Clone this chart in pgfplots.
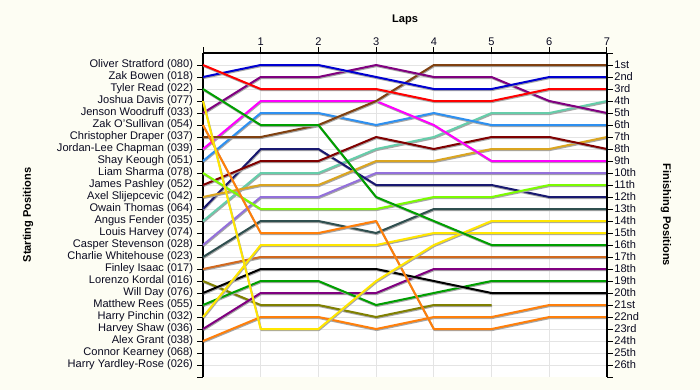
\documentclass[border=0pt]{standalone}
\usepackage{fontspec}
\setmainfont{Liberation Sans}
\usepackage{pgfplots}
\pgfplotsset{compat=1.18}
\definecolor{bgc}{HTML}{FDFDF3}
\definecolor{gridc}{HTML}{E4E4E4}
\definecolor{cRed}{HTML}{FF0000}
\definecolor{cBlue}{HTML}{0000D0}
\definecolor{cGreen}{HTML}{009F00}
\definecolor{cYellow}{HTML}{FFE600}
\definecolor{cPurple}{HTML}{800080}
\definecolor{cOrange}{HTML}{FF7F0A}
\definecolor{cBrown}{HTML}{804010}
\definecolor{cMagenta}{HTML}{FF00FF}
\definecolor{cLBlue}{HTML}{2E90F0}
\definecolor{cLime}{HTML}{7CFC00}
\definecolor{cMaroon}{HTML}{800000}
\definecolor{cGold}{HTML}{DAA520}
\definecolor{cNavy}{HTML}{191970}
\definecolor{cAqua}{HTML}{66CDAA}
\definecolor{cLav}{HTML}{9370DB}
\definecolor{cSlate}{HTML}{2F4F4F}
\definecolor{cChoc}{HTML}{D2691E}
\definecolor{cOlive}{HTML}{808000}
\definecolor{txt}{HTML}{0A0A20}
\newcommand{\lblfont}{\fontsize{8.3}{10}\selectfont}
\begin{document}
\begin{tikzpicture}[x=1pt,y=1pt]
\path[use as bounding box, fill=bgc] (0,0) rectangle (525,292.5);
\begin{axis}[
  at={(152.25pt,9.75pt)}, anchor=south west,
  scale only axis, width=303pt, height=243pt,
  xmin=0, xmax=7, ymin=0, ymax=27, y dir=reverse,
  axis x line*=top, axis y line*=left,
  xtick={0,...,7}, xticklabels={{},1,2,3,4,5,6,7},
  ytick={1,...,26},
  yticklabels={Oliver Stratford (080),Zak Bowen (018),Tyler Read (022),Joshua Davis (077),Jenson Woodruff (033),Zak O'Sullivan (054),Christopher Draper (037),Jordan-Lee Chapman (039),Shay Keough (051),Liam Sharma (078),James Pashley (052),Axel Slijepcevic (042),Owain Thomas (064),Angus Fender (035),Louis Harvey (074),Casper Stevenson (028),Charlie Whitehouse (023),Finley Isaac (017),Lorenzo Kordal (016),Will Day (076),Matthew Rees (055),Harry Pinchin (032),Harvey Shaw (036),Alex Grant (038),Connor Kearney (068),Harry Yardley-Rose (026)},
  extra y ticks={27}, extra y tick labels={},
  extra tick style={grid=none},
  tick align=outside, major tick length=4.5pt,
  grid=major, major grid style={color=gridc, line width=0.75pt},
  axis line style={line width=0.9pt, black},
  tick style={line width=0.75pt, black},
  axis background/.style={fill=white},
  /pgf/number format/assume math mode=true,
  yticklabel style={font=\lblfont, text=txt, xshift=0.5pt},
  xticklabel style={font=\lblfont, text=txt, yshift=-2.5pt},
  clip=false,
  every axis plot/.append style={line width=1.5pt, mark=none, line join=round,
    preaction={draw=black!35, line width=1.5pt, line join=round, transform canvas={shift={(0.4pt,-0.8pt)}}}},
]
\addplot[cOlive] coordinates {(0,19)(1,21)(2,21)(3,22)(4,21)(5,21)};
\addplot[cOrange] coordinates {(0,24)(1,22)(2,22)(3,23)(4,22)(5,22)(6,21)(7,21)};
\addplot[cPurple] coordinates {(0,23)(1,20)(2,20)(3,20)(4,18)(5,18)(6,18)(7,18)};
\addplot[cGreen] coordinates {(0,21)(1,19)(2,19)(3,21)(4,20)(5,19)(6,19)(7,19)};
\addplot[black] coordinates {(0,20)(1,18)(2,18)(3,18)(4,19)(5,20)(6,20)(7,20)};
\addplot[cChoc] coordinates {(0,18)(1,17)(2,17)(3,17)(4,17)(5,17)(6,17)(7,17)};
\addplot[cSlate] coordinates {(0,17)(1,14)(2,14)(3,15)(4,13)(5,13)(6,13)(7,13)};
\addplot[cYellow] coordinates {(0,22)(1,16)(2,16)(3,16)(4,15)(5,15)(6,15)(7,15)};
\addplot[cLav] coordinates {(0,16)(1,12)(2,12)(3,10)(4,10)(5,10)(6,10)(7,10)};
\addplot[cAqua] coordinates {(0,14)(1,10)(2,10)(3,8)(4,7)(5,5)(6,5)(7,4)};
\addplot[cNavy] coordinates {(0,13)(1,8)(2,8)(3,11)(4,11)(5,11)(6,12)(7,12)};
\addplot[cGold] coordinates {(0,12)(1,11)(2,11)(3,9)(4,9)(5,8)(6,8)(7,7)};
\addplot[cMaroon] coordinates {(0,11)(1,9)(2,9)(3,7)(4,8)(5,7)(6,7)(7,8)};
\addplot[cLime] coordinates {(0,10)(1,13)(2,13)(3,13)(4,12)(5,12)(6,11)(7,11)};
\addplot[cLBlue] coordinates {(0,9)(1,5)(2,5)(3,6)(4,5)(5,6)(6,6)(7,6)};
\addplot[cMagenta] coordinates {(0,8)(1,4)(2,4)(3,4)(4,6)(5,9)(6,9)(7,9)};
\addplot[cBrown] coordinates {(0,7)(1,7)(2,6)(3,4)(4,1)(5,1)(6,1)(7,1)};
\addplot[cOrange] coordinates {(0,6)(1,15)(2,15)(3,14)(4,23)(5,23)(6,22)(7,22)};
\addplot[cPurple] coordinates {(0,5)(1,2)(2,2)(3,1)(4,2)(5,2)(6,4)(7,5)};
\addplot[cYellow] coordinates {(0,4)(1,23)(2,23)(3,19)(4,16)(5,14)(6,14)(7,14)};
\addplot[cGreen] coordinates {(0,3)(1,6)(2,6)(3,12)(4,14)(5,16)(6,16)(7,16)};
\addplot[cBlue] coordinates {(0,2)(1,1)(2,1)(3,2)(4,3)(5,3)(6,2)(7,2)};
\addplot[cRed] coordinates {(0,1)(1,3)(2,3)(3,3)(4,4)(5,4)(6,3)(7,3)};
\end{axis}
\begin{axis}[
  at={(152.25pt,9.75pt)}, anchor=south west,
  scale only axis, width=303pt, height=243pt,
  xmin=0, xmax=7, ymin=0, ymax=27, y dir=reverse,
  axis x line=none, axis y line*=right,
  ytick={1,...,26},
  yticklabels={1st,2nd,3rd,4th,5th,6th,7th,8th,9th,10th,11th,12th,13th,14th,15th,16th,17th,18th,19th,20th,21st,22nd,23rd,24th,25th,26th},
  extra y ticks={0,27}, extra y tick labels={},
  tick align=outside, major tick length=4.5pt,
  axis line style={line width=0.9pt, black},
  tick style={line width=0.75pt, black},
  yticklabel style={font=\lblfont, text=txt, xshift=-2.5pt},
  /pgf/number format/assume math mode=true,
]
\addplot[draw=none] coordinates {(0,1)};
\end{axis}
\node[font=\bfseries\lblfont] at (303.75,277.5) {Laps};
\node[rotate=90, font=\bfseries\lblfont] at (21,131.25) {Starting Positions};
\node[rotate=-90, font=\bfseries\lblfont] at (499.5,131.25) {Finishing Positions};
\end{tikzpicture}
\end{document}
